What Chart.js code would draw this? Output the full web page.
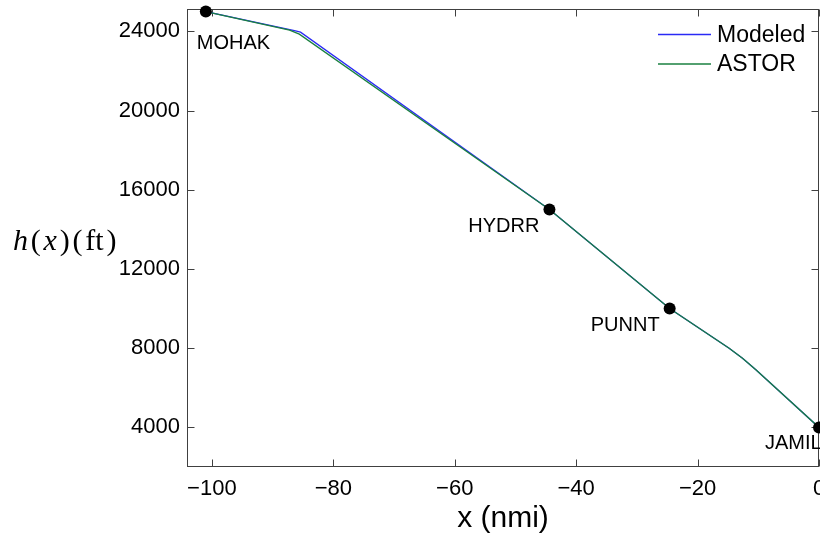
<!DOCTYPE html>
<html>
<head>
<meta charset="utf-8">
<title>h(x) descent profile</title>
<script src="https://cdn.jsdelivr.net/npm/chart.js@4/dist/chart.umd.min.js"></script>
<style>
  html, body { margin: 0; padding: 0; background: #fff; }
  #wrap { width: 820px; height: 541px; }
</style>
</head>
<body>
<div id="wrap"><canvas id="chart" width="820" height="541"></canvas></div>
<script>
// ── Data ────────────────────────────────────────────────────────
const xTicks = [-100, -80, -60, -40, -20, 0];
const hTicks = [4000, 8000, 12000, 16000, 20000, 24000];

const astorX = [-101, -87.2, -85.6, -44.4, -24.6, -14.8, -12.6, -10.4, 0];
const astorH = [25000, 24060, 23860, 15000, 10000, 8000, 7490, 6914, 4000];

const modeledX = [-101, -86.4, -85.4, -44.4, -24.6, -14.8, -12.6, -10.4, 0];
const modeledH = [25000, 24040, 23960, 15000, 10000, 8000, 7490, 6914, 4000];

const fixNames = ['MOHAK', 'HYDRR', 'PUNNT', 'JAMIL'];
const fixX = [-101, -44.4, -24.6, 0];
const fixH = [25000, 15000, 10000, 4000];

const seriesNames = ['Modeled', 'ASTOR'];

// ── Styles ──────────────────────────────────────────────────────
const FONT = "'Liberation Sans', Arial, Helvetica, sans-serif";
const SERIF = "'Liberation Serif', 'Times New Roman', serif";
const AXIS_COLOR = '#404040';
const BLUE = '#2a2af5';
const GREEN = '#1a8040';

const toXY = (xs, ys) => xs.map((x, i) => ({ x, y: ys[i] }));
const minusFmt = v => (v < 0 ? '\u2212' + Math.abs(v) : String(v));

// frame with inward ticks on all four sides (matlab-ish box)
const framePlugin = {
  id: 'frame',
  beforeDatasetsDraw(chart) {
    const { ctx, chartArea: a, scales } = chart;
    const L = Math.round(a.left) + 0.5, R = Math.round(a.right) - 0.5;
    const T = Math.round(a.top) + 0.5, B = Math.round(a.bottom) - 0.5;
    const len = 7;
    ctx.save();
    ctx.strokeStyle = AXIS_COLOR;
    ctx.lineWidth = 1;
    ctx.strokeRect(L, T, R - L, B - T);
    ctx.beginPath();
    xTicks.forEach(v => {
      const px = Math.round(scales.x.getPixelForValue(v)) + 0.5;
      ctx.moveTo(px, B); ctx.lineTo(px, B - len);
      ctx.moveTo(px, T); ctx.lineTo(px, T + len);
    });
    hTicks.forEach(v => {
      const py = Math.round(scales.y.getPixelForValue(v)) + 0.5;
      ctx.moveTo(L, py); ctx.lineTo(L + len, py);
      ctx.moveTo(R, py); ctx.lineTo(R - len, py);
    });
    ctx.stroke();

    // x tick labels drawn here so the last one may run off the canvas edge
    ctx.fillStyle = '#000';
    ctx.font = `22px ${FONT}`;
    ctx.textAlign = 'center';
    ctx.textBaseline = 'middle';
    xTicks.forEach(v => {
      ctx.fillText(minusFmt(v), scales.x.getPixelForValue(v), a.bottom + 22);
    });
    ctx.restore();
  },
  afterDraw(chart) {
    const { ctx, chartArea: a, scales } = chart;
    ctx.save();
    ctx.fillStyle = '#000';

    // waypoint names
    ctx.font = `20px ${FONT}`;
    ctx.textBaseline = 'alphabetic';
    fixNames.forEach((name, i) => {
      const px = scales.x.getPixelForValue(fixX[i]);
      const py = scales.y.getPixelForValue(fixH[i]);
      if (i === 0) {
        ctx.textAlign = 'left';
        ctx.fillText(name, px - 9, py + 37);
      } else if (i === fixNames.length - 1) {
        ctx.textAlign = 'left';
        ctx.fillText(name, px - 54, py + 22);
      } else {
        ctx.textAlign = 'right';
        ctx.fillText(name, px - 10, py + 22);
      }
    });

    // legend (no box, top right inside axes)
    const colors = [BLUE, GREEN];
    const rows = [34.5, 64];
    ctx.font = `23px ${FONT}`;
    ctx.textAlign = 'left';
    ctx.textBaseline = 'middle';
    seriesNames.forEach((name, i) => {
      ctx.strokeStyle = colors[i];
      ctx.lineWidth = 1.3;
      ctx.beginPath();
      ctx.moveTo(658, rows[i]);
      ctx.lineTo(711, rows[i]);
      ctx.stroke();
      ctx.fillText(name, 717, rows[i] + 1);
    });

    // x title
    ctx.font = `30px ${FONT}`;
    ctx.textAlign = 'center';
    ctx.textBaseline = 'alphabetic';
    ctx.fillText('x (nmi)', (a.left + a.right) / 2, 527);

    // y title, horizontal, latex-ish  h(x)(ft)
    const parts = [['h', 'italic '], ['(', ''], ['x', 'italic '], [')', ''], ['(', ''], ['ft', ''], [')', '']];
    let cx = 13;
    ctx.textAlign = 'left';
    parts.forEach(([t, st]) => {
      ctx.font = `${st}30px ${SERIF}`;
      ctx.fillText(t, cx, 250);
      cx += ctx.measureText(t).width + 2.8;
    });
    ctx.restore();
  }
};

new Chart(document.getElementById('chart'), {
  type: 'scatter',
  data: {
    datasets: [
      {
        label: 'fixes',
        data: toXY(fixX, fixH),
        showLine: false,
        pointRadius: 6,
        pointBackgroundColor: '#000',
        pointBorderWidth: 0,
        clip: false,
      },
      {
        label: seriesNames[1],
        data: toXY(astorX, astorH),
        showLine: true,
        borderColor: GREEN,
        borderWidth: 1.3,
        pointRadius: 0,
        tension: 0,
      },
      {
        label: seriesNames[0],
        data: toXY(modeledX, modeledH),
        showLine: true,
        borderColor: BLUE,
        borderWidth: 1.3,
        pointRadius: 0,
        tension: 0,
      },
    ],
  },
  options: {
    responsive: false,
    animation: false,
    devicePixelRatio: 1,
    layout: { autoPadding: false, padding: { top: 9, right: 1, left: 0, bottom: 0 } },
    plugins: { legend: { display: false }, tooltip: { enabled: false } },
    scales: {
      x: {
        type: 'linear',
        min: -104.1,
        max: 0,
        afterBuildTicks: s => { s.ticks = xTicks.map(v => ({ value: v })); },
        afterFit: s => { s.height = 74; },
        grid: { display: false, drawTicks: false },
        border: { display: false },
        ticks: { display: false },
      },
      y: {
        type: 'linear',
        min: 2000,
        max: 25130,
        afterBuildTicks: s => { s.ticks = hTicks.map(v => ({ value: v })); },
        afterFit: s => { s.width = 187; s.paddingTop = 0; s.paddingBottom = 0; },
        grid: { display: false, drawTicks: false },
        border: { display: false },
        ticks: { color: '#000', font: { family: FONT, size: 22 }, padding: 7, callback: v => String(v) },
      },
    },
  },
  plugins: [framePlugin],
});
</script>
</body>
</html>
